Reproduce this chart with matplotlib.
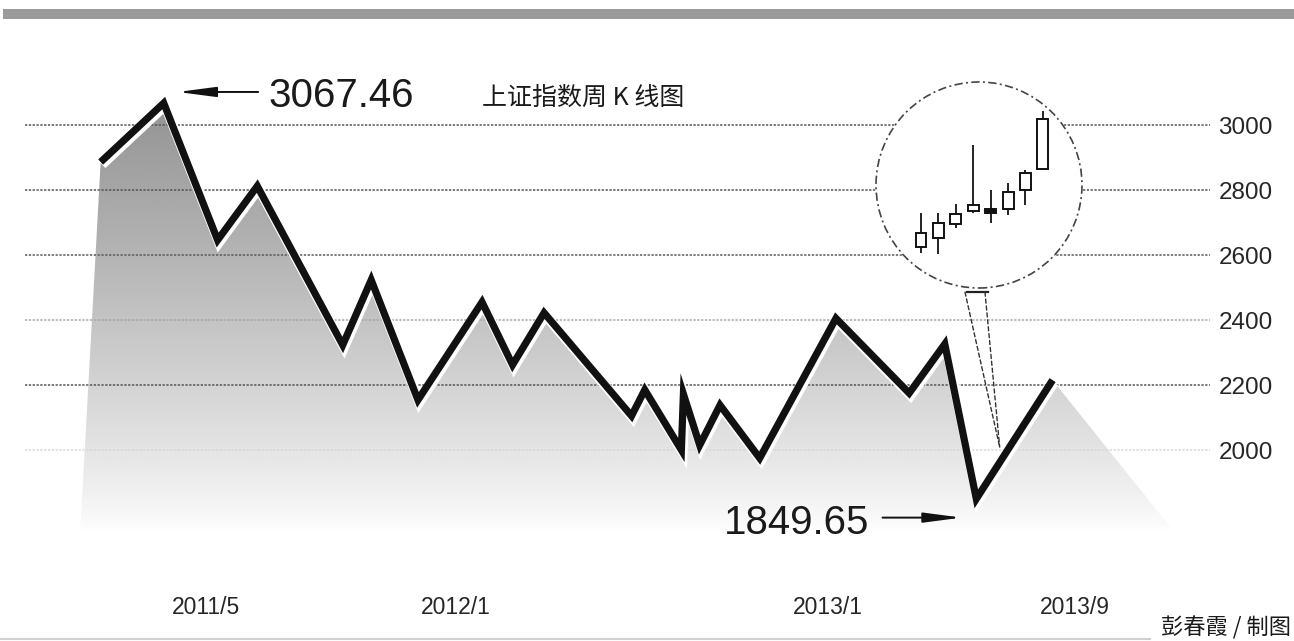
import numpy as np
import pandas as pd
import matplotlib
matplotlib.use("Agg")
import matplotlib.pyplot as plt
import matplotlib.dates as mdates
import matplotlib.patheffects as pe
from matplotlib.patches import Circle, Polygon, Rectangle, ConnectionPatch
from matplotlib.lines import Line2D
from matplotlib.transforms import offset_copy

# ---------------- data ----------------
week_dates = ['2011-01-17', '2011-03-20', '2011-05-12', '2011-06-20', '2011-09-12',
              '2011-10-10', '2011-11-25', '2012-01-27', '2012-02-26', '2012-03-28',
              '2012-06-22', '2012-07-05', '2012-08-10', '2012-08-12', '2012-08-28',
              '2012-09-17', '2012-10-26', '2013-01-09', '2013-03-22', '2013-04-26',
              '2013-05-27', '2013-08-10']
index_values = [2886, 3067.46, 2646, 2812, 2323, 2523, 2154, 2455, 2262, 2422,
                2105, 2185, 2000, 2172, 2015, 2138, 1975, 2405, 2175, 2326,
                1849.65, 2215]

peak_label = '3067.46'
low_label = '1849.65'

y_ticks = [2000, 2200, 2400, 2600, 2800, 3000]
grid_colors = ['#d8d8d8', '#555555', '#a8a8a8', '#5a5a5a', '#555555', '#555555']
x_tick_dates = ['2011-05-01', '2012-01-01', '2013-01-01', '2013-09-01']
x_tick_labels = ['2011/5', '2012/1', '2013/1', '2013/9']

# shaded area feet
fill_base = 1754
fill_left_date = '2010-12-28'
fill_right_date = '2013-12-06'

# magnified weekly candlesticks (inset)
candle_open = [1994, 2012, 2041, 2067, 2071, 2071, 2110, 2152]
candle_close = [2022, 2043, 2061, 2079, 2063, 2106, 2144, 2254]
candle_high = [2063, 2063, 2081, 2201, 2110, 2124, 2150, 2270]
candle_low = [1982, 1980, 2033, 2063, 2043, 2059, 2079, 2152]
zoom_target = ('2013-06-19', 2009)

title_text = '上证指数周 K 线图'
credit_text = '彭春霞 / 制图'

# ---------------- layout helpers ----------------
W, H = 1294, 641
def fx(px):
    return px / W
def fy(py):
    return 1 - py / H

base_num = mdates.date2num(pd.Timestamp('2012-01-01'))
def px_to_date(px):
    return base_num + (px - 455.6) / 1.017
def py_to_val(py):
    return 3000 - (py - 125) / 0.325

fig = plt.figure(figsize=(W / 100, H / 100), dpi=100)
fig.patch.set_facecolor('white')

ax = fig.add_axes([fx(25), fy(590), fx(1210) - fx(25), fy(40) - fy(590)])
ax.set_facecolor('none')
for s in ax.spines.values():
    s.set_visible(False)

dates = mdates.date2num(pd.to_datetime(week_dates))
vals = np.array(index_values)

# gradient fill under the line
poly_x = np.concatenate([[mdates.date2num(pd.Timestamp(fill_left_date))], dates,
                         [mdates.date2num(pd.Timestamp(fill_right_date))]])
poly_y = np.concatenate([[fill_base], vals, [fill_base]])
clip_poly = Polygon(np.column_stack([poly_x, poly_y]), closed=True,
                    transform=ax.transData, fc='none', ec='none')
t = np.linspace(0, 1, 256)
grad = (0.995 - 0.42 * t ** 0.85).reshape(-1, 1)
im = ax.imshow(grad, extent=[poly_x.min(), poly_x.max(), fill_base, vals.max() + 10],
               origin='lower', aspect='auto', cmap='gray', vmin=0, vmax=1,
               interpolation='bicubic', zorder=1)
im.set_clip_path(clip_poly)

# dotted grid lines
for v, c in zip(y_ticks, grid_colors):
    ax.axhline(v, color=c, lw=1.1, ls=(0, (1.5, 1.0)), zorder=2)

# index line with white underside edge
ax.plot(dates, vals, color='#111111', lw=5.2, solid_joinstyle='miter',
        solid_capstyle='butt', zorder=4,
        path_effects=[pe.Stroke(linewidth=7.0, foreground='white', offset=(1.0, -1.8)),
                      pe.Normal()])

ax.set_xlim(px_to_date(25), px_to_date(1210))
ax.set_ylim(py_to_val(590), py_to_val(40))

ax.yaxis.tick_right()
ax.set_yticks(y_ticks)
ax.set_yticklabels([str(v) for v in y_ticks])
ax.tick_params(axis='y', length=0, pad=6, labelsize=17.5, labelcolor='#262626')
for lab in ax.get_yticklabels():
    lab.set_fontfamily(['Liberation Sans', 'DejaVu Sans'])

ax.set_xticks(mdates.date2num(pd.to_datetime(x_tick_dates)))
ax.set_xticklabels(x_tick_labels)
ax.tick_params(axis='x', length=0, pad=4, labelsize=16.5, labelcolor='#262626')
for lab in ax.get_xticklabels():
    lab.set_fontfamily(['Liberation Sans', 'DejaVu Sans'])

# annotations for high and low
ipk = int(np.argmax(vals))
ilo = int(np.argmin(vals))
num_font = dict(fontsize=29, color='#1a1a1a', family=['Liberation Sans', 'DejaVu Sans'])
arrow_kw = dict(arrowstyle='-|>,head_length=2.3,head_width=0.3', lw=1.4, color='#111111',
                shrinkA=0, shrinkB=0)

tip_pk = offset_copy(ax.transData, fig=fig, x=10.0, y=8.0, units='points')
ax.annotate('', xy=(dates[ipk], vals[ipk]), xycoords=tip_pk,
            xytext=(58, 0), textcoords='offset points', arrowprops=arrow_kw, zorder=6)
ax.annotate(peak_label, xy=(dates[ipk], vals[ipk]), xytext=(75.5, -2.5),
            textcoords='offset points', ha='left', va='baseline', zorder=6, **num_font)

tip_lo = offset_copy(ax.transData, fig=fig, x=-10.5, y=-13.5, units='points')
ax.annotate('', xy=(dates[ilo], vals[ilo]), xycoords=tip_lo,
            xytext=(-57, 0), textcoords='offset points', arrowprops=arrow_kw, zorder=6)
ax.annotate(low_label, xy=(dates[ilo], vals[ilo]), xytext=(-77, -25.2),
            textcoords='offset points', ha='right', va='baseline', zorder=6, **num_font)

# title and credit
fig.text(fx(482), fy(98), title_text, ha='left', va='center', fontsize=18,
         color='#1a1a1a', family=['Noto Sans CJK SC', 'DejaVu Sans'])
fig.text(fx(1291), fy(628), credit_text, ha='right', va='center', fontsize=16,
         color='#1a1a1a', family=['Noto Sans CJK SC', 'DejaVu Sans'])

# top gray bar and bottom thin rule
fig.add_artist(Rectangle((fx(3), fy(19)), 1 - fx(3), 10 / H, transform=fig.transFigure,
                         fc='#9b9b9b', ec='none'))
fig.add_artist(Line2D([0, fx(1150)], [fy(638.5), fy(638.5)], transform=fig.transFigure,
                      color='#d0d0d0', lw=1.5))

# magnifier inset with candlesticks
ax_in = fig.add_axes([fx(876), fy(288), 206 / W, 206 / H])
ax_in.set_axis_off()
ax_in.patch.set_alpha(0)
ax_in.add_patch(Circle((0.5, 0.5), 0.5, transform=ax_in.transAxes, fc='white',
                       ec='#444444', lw=1.2, ls=(0, (5, 2, 1.2, 2)), zorder=0, clip_on=False))
ci = np.arange(len(candle_open))
co = np.array(candle_open); cc = np.array(candle_close)
ax_in.vlines(ci, candle_low, candle_high, color='#111111', lw=1.3, zorder=2)
up = cc >= co
ax_in.bar(ci, np.abs(cc - co), bottom=np.minimum(co, cc), width=0.63,
          color=np.where(up, 'white', '#111111'), edgecolor='#111111', lw=1.4, zorder=3)
ax_in.set_xlim(-2.586, 9.25)
ax_in.set_ylim(1910.7, 2328.9)

# connector from magnifier down to the chart
tgt = (mdates.date2num(pd.Timestamp(zoom_target[0])), zoom_target[1])
for xa in (0.432, 0.529):
    cp = ConnectionPatch(xyA=(xa, -0.02), coordsA=ax_in.transAxes, xyB=tgt,
                         coordsB=ax.transData, color='#333333', lw=1.0,
                         ls=(0, (3, 2)), zorder=7)
    fig.add_artist(cp)
fig.add_artist(Line2D([0.44, 0.545], [-0.017, -0.017], transform=ax_in.transAxes,
                      color='#222222', lw=1.6))

fig.savefig('out.png', dpi=100, facecolor='white')
